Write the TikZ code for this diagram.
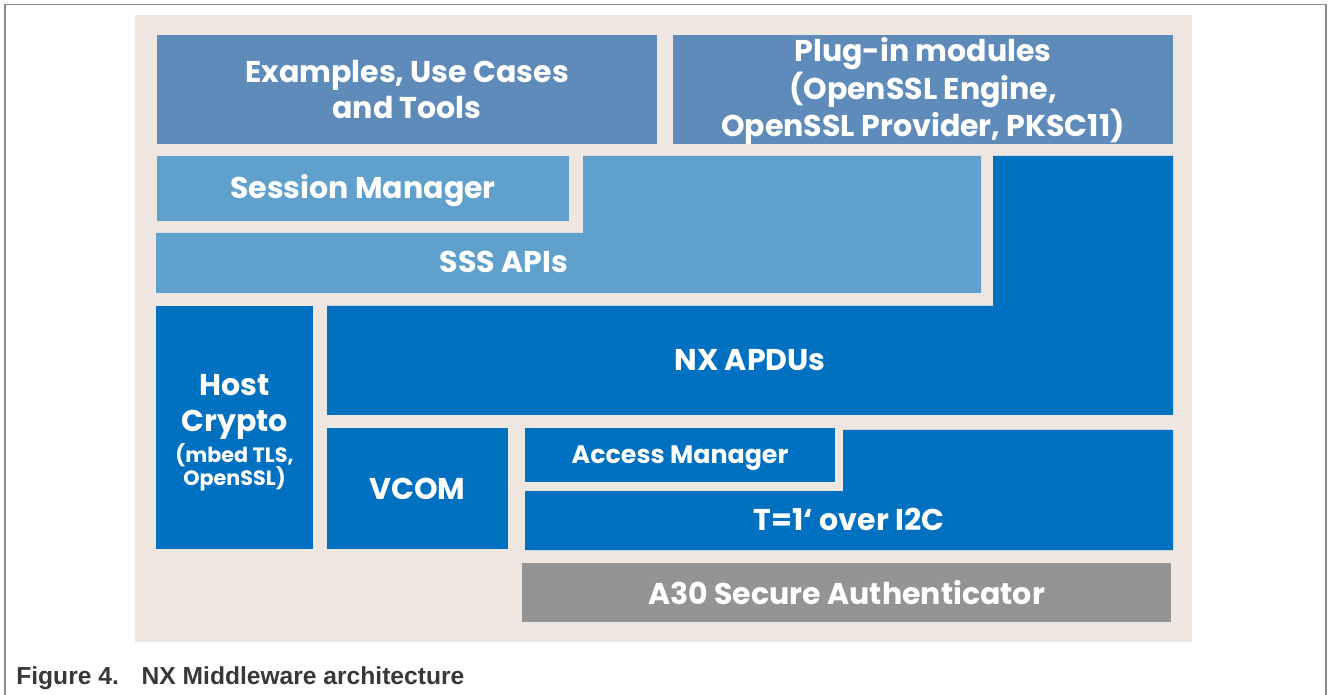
\documentclass[tikz,border=0pt]{standalone}
\usepackage{fontspec}
\setmainfont{Poppins}
\newfontfamily\capfont{Liberation Sans}
\definecolor{framegray}{HTML}{8C8C8C}
\definecolor{sand}{HTML}{EEE7E1}
\definecolor{steelblue}{HTML}{5F8BBB}
\definecolor{skyblue}{HTML}{60A0CC}
\definecolor{nxpblue}{HTML}{0070C0}
\definecolor{chipgray}{HTML}{949494}
\definecolor{captext}{HTML}{383838}
\begin{document}
\begin{tikzpicture}[x=0.02cm, y=-0.02cm,
  lbl/.style={text=white, inner sep=0pt, align=center,
    font=\bfseries\fontsize{17.1}{20.2}\selectfont},
  smalllbl/.style={lbl, font=\bfseries\fontsize{14.4}{17}\selectfont}]
  \useasboundingbox (0,0) rectangle (1328,695);
  \draw[framegray, line width=0.8pt] (5,695) -- (5,4.5) -- (1326,4.5) -- (1326,695);
  \fill[sand] (135,15) rectangle (1192,642);
  % application layer
  \fill[steelblue] (157,35) rectangle node[lbl] (examples) {Examples, Use Cases\\and Tools} (657,144);
  \fill[steelblue] (673,35) rectangle node[lbl, yshift=-1pt] (plugins) {Plug-in modules\\(OpenSSL Engine,\\OpenSSL Provider, PKSC11)} (1173,144);
  % middleware
  \fill[skyblue] (157,156) rectangle node[lbl, yshift=-1pt] (session) {Session Manager} (569,221);
  \fill[skyblue] (583,156) -- (981,156) -- (981,293) -- (156,293) -- (156,233) -- (583,233) -- cycle;
  \node[lbl] (sss) at (504,262) {SSS APIs};
  \fill[nxpblue] (993,156) -- (1173,156) -- (1173,415) -- (327,415) -- (327,306) -- (993,306) -- cycle;
  \node[lbl] (apdu) at (750,360) {NX APDUs};
  \fill[nxpblue] (156,306) rectangle node[lbl, yshift=-3pt] (host) {Host\\Crypto\\[-2.6pt]{\fontsize{11.8}{14}\selectfont(mbed TLS,}\\[-7.2pt]{\fontsize{11.8}{14}\selectfont OpenSSL)}} (313,549);
  \fill[nxpblue] (327,428) rectangle node[lbl] (vcom) {VCOM} (508,549);
  \fill[nxpblue] (525,428) rectangle node[smalllbl, yshift=-2pt] (access) {Access Manager} (835,482);
  \fill[nxpblue] (843,430) -- (1173,430) -- (1173,550) -- (525,550) -- (525,491) -- (843,491) -- cycle;
  \node[lbl] (tone) at (849,519) {T=1‘ over I2C};
  % hardware
  \fill[chipgray] (522,563) rectangle node[lbl] (a30) {A30 Secure Authenticator} (1171,622);
  \node[anchor=base west, inner sep=0pt, text=captext, font=\capfont\bfseries\fontsize{14}{16}\selectfont] (caption) at (16,684) {Figure 4.\hspace{13pt}NX Middleware architecture};
\end{tikzpicture}
\end{document}
